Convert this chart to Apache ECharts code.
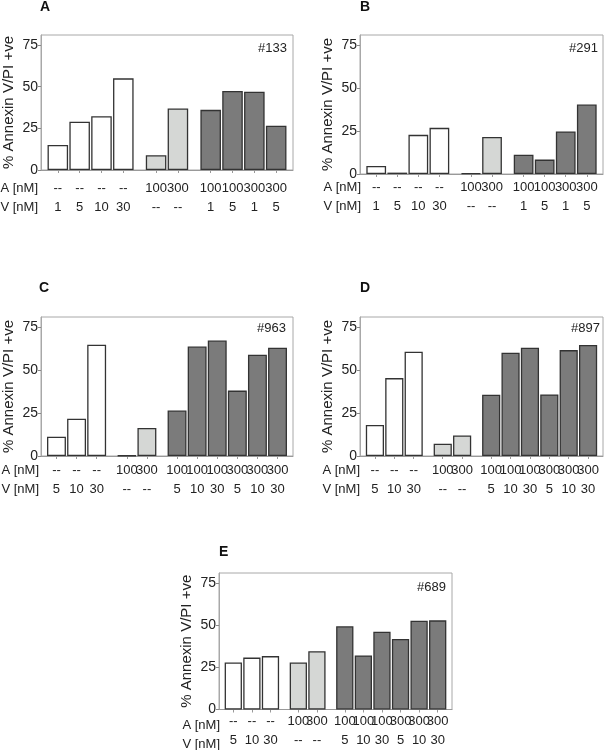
<!DOCTYPE html>
<html><head><meta charset="utf-8">
<script src="https://cdn.jsdelivr.net/npm/echarts@6/dist/echarts.min.js"></script>
<style>html,body{margin:0;padding:0;background:#fff}#c{width:606px;height:750px}</style>
</head><body><div id="c"></div>
<script>
// ---------- data ----------
const panelLetters = ['A', 'B', 'C', 'D', 'E'];
const sampleIds = ['#133', '#291', '#963', '#897', '#689'];
const rowNames = ['A [nM]', 'V [nM]'];
const yTicks = [0, 25, 50, 75];

// 10-bar design (panels A, B)
const doseA10 = ['--', '--', '--', '--', '100', '300', '100', '100', '300', '300'];
const doseV10 = ['1', '5', '10', '30', '--', '--', '1', '5', '1', '5'];
const groups10 = [4, 2, 4];
// 11-bar design (panels C, D, E)
const doseA11 = ['--', '--', '--', '100', '300', '100', '100', '100', '300', '300', '300'];
const doseV11 = ['5', '10', '30', '--', '--', '5', '10', '30', '5', '10', '30'];
const groups11 = [3, 2, 6];

const valuesA = [15, 29, 32.3, 55, 8.9, 36.9, 36.1, 47.4, 47, 26.6];
const valuesB = [4.7, 0.8, 22.8, 26.9, 0.4, 21.6, 11.2, 8.4, 24.8, 40.5];
const valuesC = [11.2, 21.7, 64.8, 0.3, 16.3, 26.5, 63.8, 67.3, 38.1, 59, 63.1];
const valuesD = [18.1, 45.4, 60.8, 7.2, 12.0, 35.7, 60.2, 63.1, 35.9, 61.7, 64.7];
const valuesE = [27.9, 30.8, 31.7, 27.9, 34.6, 49.4, 32.1, 46.2, 41.9, 52.7, 52.9];

// ---------- layout / style ----------
const FONT = '"Liberation Sans", Arial, sans-serif';
const groupColors = ['#ffffff', '#d5d7d5', '#7b7b7b'];
const panels = [
  { vals: valuesA, a: doseA10, v: doseV10, g: groups10, left: 38, top: 35, width: 255, height: 135, margin: 9, rowX: 38, rowY: [188.5, 207], letterX: 40, letterY: 7, idX: 287, idY: 48.5 },
  { vals: valuesB, a: doseA10, v: doseV10, g: groups10, left: 360, top: 35, width: 245, height: 139, margin: 3.5, rowX: 361, rowY: [187, 206], letterX: 360, letterY: 7, idX: 598, idY: 48 },
  { vals: valuesC, a: doseA11, v: doseV11, g: groups11, left: 38, top: 317, width: 255, height: 139, margin: 4.5, rowX: 39, rowY: [470, 489], letterX: 39, letterY: 288, idX: 286, idY: 328.5 },
  { vals: valuesD, a: doseA11, v: doseV11, g: groups11, left: 360, top: 317, width: 245, height: 139, margin: 4.5, rowX: 360, rowY: [470, 489], letterX: 360, letterY: 288, idX: 600, idY: 328.5 },
  { vals: valuesE, a: doseA11, v: doseV11, g: groups11, left: 219, top: 573, width: 233, height: 140, margin: 2.5, rowX: 220, rowY: [725, 744], letterX: 219, letterY: 552.5, idX: 446, idY: 587 }
];

function positions(groups) {
  const pos = []; const grp = []; let x = 0;
  groups.forEach((n, gi) => {
    if (gi > 0) x += 0.5;
    for (let i = 0; i < n; i++) { pos.push(x); grp.push(gi); x += 1; }
  });
  return { pos, grp };
}

const grid = [], xAxis = [], yAxis = [], series = [], graphic = [];
panels.forEach((p, i) => {
  const { pos, grp } = positions(p.g);
  const min = -0.77, max = pos[pos.length - 1] + 0.77;
  const barW = p.width / (max - min) * 0.93;
  grid.push({ left: p.left, top: p.top, width: p.width, height: p.height, show: true, borderColor: '#a8a8a8', borderWidth: 1, containLabel: false });
  xAxis.push({
    type: 'value', gridIndex: i, min, max,
    axisLine: { show: true, onZero: false, lineStyle: { color: '#999', width: 1 } },
    axisTick: { show: true, customValues: pos, length: 3, lineStyle: { color: '#999' } },
    splitLine: { show: false },
    axisLabel: {
      // blank labels at both ends so no real label is treated as min/max label
      customValues: [min].concat(pos, [max]), margin: p.margin, fontSize: 13, lineHeight: 19, color: '#222', fontFamily: FONT,
      hideOverlap: false,
      formatter: (val) => {
        const k = pos.findIndex(q => Math.abs(q - val) < 1e-6);
        return k < 0 ? '' : p.a[k] + '\n' + p.v[k];
      }
    }
  });
  yAxis.push({
    type: 'value', gridIndex: i, min: 0, max: 81,
    name: '% Annexin V/PI +ve', nameLocation: 'middle', nameGap: 25,
    nameTextStyle: { fontSize: 15, color: '#222', fontFamily: FONT },
    axisLine: { show: true, onZero: false, lineStyle: { color: '#a8a8a8' } },
    axisTick: { show: true, customValues: yTicks, length: 3, lineStyle: { color: '#888' } },
    splitLine: { show: false },
    axisLabel: { customValues: yTicks, fontSize: 14, color: '#222', margin: 3, fontFamily: FONT, showMinLabel: true, showMaxLabel: true }
  });
  series.push({
    type: 'bar', xAxisIndex: i, yAxisIndex: i, barWidth: barW, silent: true,
    itemStyle: { borderColor: '#333', borderWidth: 1.3 },
    data: p.vals.map((v, k) => ({ value: [pos[k], v], itemStyle: { color: groupColors[grp[k]] } }))
  });
  graphic.push({ type: 'text', x: p.letterX, y: p.letterY, style: { text: panelLetters[i], font: 'bold 14px ' + FONT, fill: '#111', align: 'left', verticalAlign: 'middle' } });
  graphic.push({ type: 'text', x: p.idX, y: p.idY, style: { text: sampleIds[i], font: '13px ' + FONT, fill: '#222', align: 'right', verticalAlign: 'middle' } });
  rowNames.forEach((r, ri) => {
    graphic.push({ type: 'text', x: p.rowX, y: p.rowY[ri], style: { text: r, font: '13px ' + FONT, fill: '#222', align: 'right', verticalAlign: 'middle' } });
  });
});

const chart = echarts.init(document.getElementById('c'), null, { renderer: 'canvas' });
chart.setOption({ animation: false, backgroundColor: '#fff', grid, xAxis, yAxis, series, graphic });
</script>
</body></html>
